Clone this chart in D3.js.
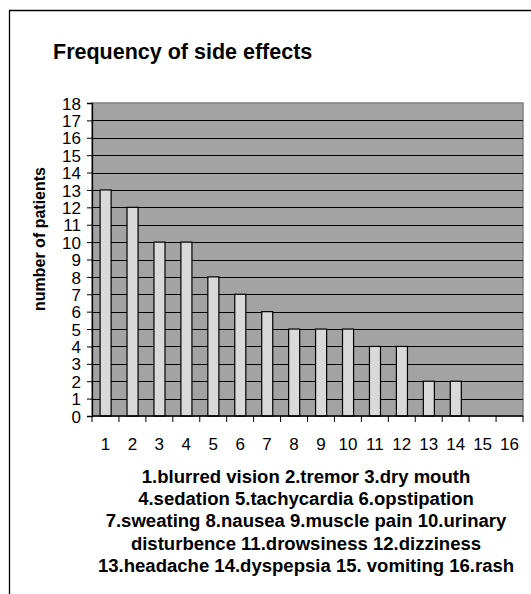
<!DOCTYPE html>
<html>
<head>
<meta charset="utf-8">
<script src="https://cdn.jsdelivr.net/npm/d3@7"></script>
<style>
  body { margin: 0; background: #fff; }
  text { font-family: "Liberation Sans", Arial, sans-serif; fill: #000; }
</style>
</head>
<body>
<div id="chart"></div>
<script>
// chart data
var categories = ["1","2","3","4","5","6","7","8","9","10","11","12","13","14","15","16"];
var patients = [13, 12, 10, 10, 8, 7, 6, 5, 5, 5, 4, 4, 2, 2, 0, 0];
var yTicks = d3.range(0, 19);
var legendLines = [
  "1.blurred vision 2.tremor 3.dry mouth",
  "4.sedation 5.tachycardia 6.opstipation",
  "7.sweating 8.nausea 9.muscle pain 10.urinary",
  "disturbence 11.drowsiness 12.dizziness",
  "13.headache 14.dyspepsia 15. vomiting 16.rash"
];

var svgWidth = 531, svgHeight = 594;
var plot = { left: 92, right: 523, top: 103, bottom: 416 };

var svg = d3.select("#chart").append("svg")
  .attr("width", svgWidth)
  .attr("height", svgHeight);

// outer frame (cut at right and bottom)
svg.append("path")
  .attr("d", "M9.5,600 L9.5,10.5 L540,10.5")
  .attr("fill", "none")
  .attr("stroke", "#000")
  .attr("stroke-width", 1.3);

svg.append("text")
  .attr("x", 53)
  .attr("y", 59)
  .attr("font-size", "21.5px")
  .attr("font-weight", "bold")
  .text("Frequency of side effects");

var xBand = d3.scaleBand()
  .domain(categories)
  .range([plot.left, plot.right]);

var y = d3.scaleLinear()
  .domain([0, 18])
  .range([plot.bottom, plot.top]);

// plot background
svg.append("rect")
  .attr("x", plot.left)
  .attr("y", plot.top)
  .attr("width", plot.right - plot.left)
  .attr("height", plot.bottom - plot.top)
  .attr("fill", "#a3a3a3")
  .attr("stroke", "#808080")
  .attr("stroke-width", 1.5);

// gridlines
svg.append("g")
  .selectAll("line")
  .data(yTicks.filter(d => d > 0 && d < 18))
  .enter()
  .append("line")
  .attr("x1", plot.left)
  .attr("x2", plot.right)
  .attr("y1", d => Math.round(y(d)) + 0.5)
  .attr("y2", d => Math.round(y(d)) + 0.5)
  .attr("stroke", "#000")
  .attr("stroke-width", 1);

// bars
svg.append("g")
  .selectAll("rect")
  .data(patients)
  .enter()
  .append("rect")
  .attr("x", (d, i) => xBand(categories[i]) + xBand.bandwidth() * 0.3)
  .attr("y", d => y(d))
  .attr("width", xBand.bandwidth() * 0.41)
  .attr("height", d => plot.bottom - y(d))
  .attr("fill", "#d9d9d9")
  .attr("stroke", "#000")
  .attr("stroke-width", d => d > 0 ? 1.2 : 0);

// y axis
var yAxis = d3.axisLeft(y)
  .tickValues(yTicks)
  .tickSize(5)
  .tickPadding(6)
  .tickFormat(d3.format("d"));

var gy = svg.append("g")
  .attr("transform", `translate(${plot.left},0)`)
  .call(yAxis);
gy.select(".domain").attr("stroke", "#000").attr("stroke-width", 1.3);
gy.selectAll("text").attr("font-size", "17px").attr("dy", "0.36em");

// x axis with ticks at category boundaries
var gx = svg.append("g")
  .attr("transform", `translate(0,${plot.bottom})`);
gx.append("line")
  .attr("x1", plot.left)
  .attr("x2", plot.right)
  .attr("stroke", "#000")
  .attr("stroke-width", 1.3);
gx.selectAll(".bnd")
  .data(categories.concat(["end"]))
  .enter()
  .append("line")
  .attr("x1", (d, i) => i < categories.length ? xBand(d) : plot.right)
  .attr("x2", (d, i) => i < categories.length ? xBand(d) : plot.right)
  .attr("y1", 0)
  .attr("y2", 6)
  .attr("stroke", "#000");
gx.selectAll(".lbl")
  .data(categories)
  .enter()
  .append("text")
  .attr("x", d => xBand(d) + xBand.bandwidth() / 2)
  .attr("y", 34)
  .attr("text-anchor", "middle")
  .attr("font-size", "17px")
  .text(d => d);

// y axis title
svg.append("text")
  .attr("transform", "translate(45,239) rotate(-90)")
  .attr("text-anchor", "middle")
  .attr("font-size", "16px")
  .attr("font-weight", "bold")
  .text("number of patients");

// category legend under the chart
svg.append("g")
  .attr("transform", "translate(306,0) scale(1.06,1)")
  .selectAll("text")
  .data(legendLines)
  .enter()
  .append("text")
  .attr("x", 0)
  .attr("y", (d, i) => 483 + i * 22.2)
  .attr("text-anchor", "middle")
  .attr("font-size", "17.5px")
  .attr("font-weight", "bold")
  .text(d => d);
</script>
</body>
</html>
